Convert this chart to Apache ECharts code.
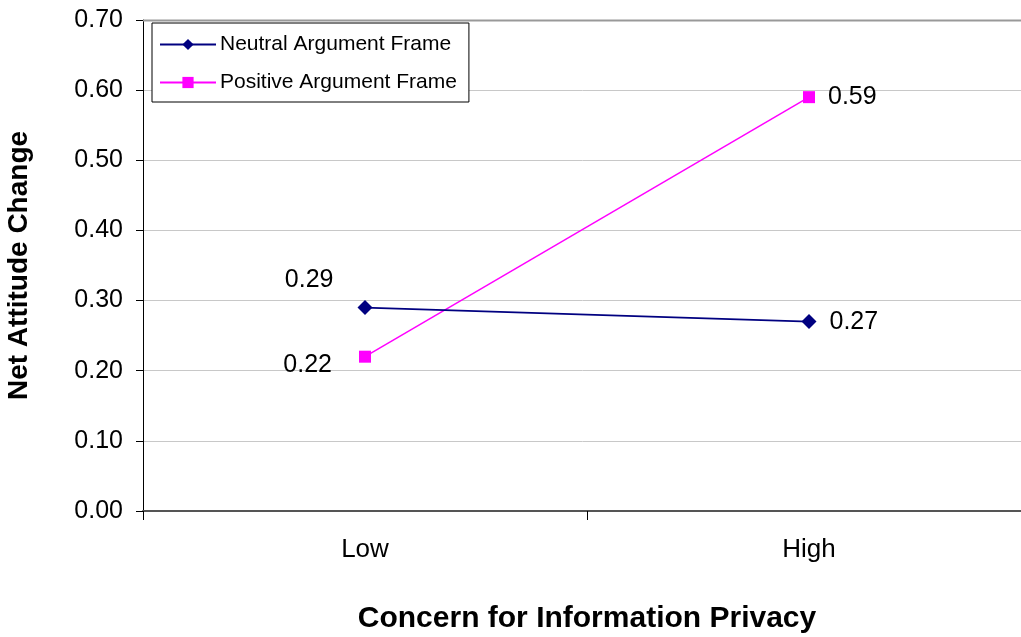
<!DOCTYPE html>
<html>
<head>
<meta charset="utf-8">
<script src="https://cdn.jsdelivr.net/npm/echarts@6/dist/echarts.min.js"></script>
<style>
  html, body { margin: 0; padding: 0; background: #fff; }
  #chart { width: 1021px; height: 637px; }
</style>
</head>
<body>
<div id="chart"></div>
<script>
// Concern for information privacy levels
const categories = ['Low', 'High'];
// Net attitude change per argument frame
const neutralValues = [0.29, 0.27];
const positiveValues = [0.22, 0.59];
const seriesNames = ['Neutral Argument Frame', 'Positive Argument Frame'];

const FONT = '"Liberation Sans", Arial, Helvetica, sans-serif';

const chart = echarts.init(document.getElementById('chart'), null, { renderer: 'canvas' });

const labelBase = {
  show: true,
  fontFamily: FONT,
  fontSize: 25,
  color: '#000',
  formatter: p => p.value.toFixed(2)
};

chart.setOption({
  animation: false,
  backgroundColor: '#fff',
  textStyle: { fontFamily: FONT },
  // plot area runs slightly past the right edge of the canvas
  grid: { left: 143, top: 20, width: 888, bottom: 126, containLabel: false, outerBoundsMode: 'none' },
  legend: {
    orient: 'vertical',
    left: 152,
    top: 23,
    padding: [11, 12, 9, 7],
    itemGap: 17,
    itemWidth: 56,
    itemHeight: 14,
    borderColor: '#000',
    borderWidth: 1,
    backgroundColor: '#fff',
    textStyle: { fontFamily: FONT, fontSize: 21, color: '#000', padding: [0, 0, 0, -1] },
    data: seriesNames
  },
  xAxis: {
    type: 'category',
    data: categories,
    boundaryGap: true,
    name: 'Concern for Information Privacy',
    nameLocation: 'middle',
    nameGap: 93,
    nameTextStyle: { fontFamily: FONT, fontSize: 30, fontWeight: 'bold', color: '#000' },
    axisLine: { lineStyle: { color: '#555', width: 2 } },
    axisTick: { show: true, length: 9, lineStyle: { color: '#000', width: 1 } },
    axisLabel: { margin: 26, fontFamily: FONT, fontSize: 26, color: '#000' },
    splitLine: { show: false }
  },
  yAxis: {
    type: 'value',
    min: 0,
    max: 0.7,
    interval: 0.1,
    name: 'Net Attitude Change',
    nameLocation: 'middle',
    nameGap: 110,
    nameTextStyle: { fontFamily: FONT, fontSize: 28, fontWeight: 'bold', color: '#000' },
    axisLine: { show: true, lineStyle: { color: '#000', width: 1 } },
    axisTick: { show: true, length: 7, lineStyle: { color: '#000' } },
    axisLabel: { margin: 20, fontFamily: FONT, fontSize: 25, color: '#000', formatter: v => v.toFixed(2) },
    splitLine: { show: true, lineStyle: { color: '#c8c8c8', width: 1 } }
  },
  series: [
    {
      name: seriesNames[0],
      type: 'line',
      data: [
        { value: neutralValues[0], label: Object.assign({}, labelBase, { position: 'left', distance: 24, offset: [0, -27] }) },
        { value: neutralValues[1], label: Object.assign({}, labelBase, { position: 'right', distance: 13, offset: [0, 0] }) }
      ],
      symbol: 'diamond',
      symbolSize: 15,
      color: '#000080',
      lineStyle: { color: '#000080', width: 1.8 },
      itemStyle: { color: '#000080' },
      z: 3
    },
    {
      name: seriesNames[1],
      type: 'line',
      data: [
        { value: positiveValues[0], label: Object.assign({}, labelBase, { position: 'left', distance: 27, offset: [0, 8] }) },
        { value: positiveValues[1], label: Object.assign({}, labelBase, { position: 'right', distance: 13, offset: [0, 0] }) }
      ],
      symbol: 'rect',
      symbolSize: 12,
      color: '#ff00ff',
      lineStyle: { color: '#ff00ff', width: 1.5 },
      itemStyle: { color: '#ff00ff' },
      z: 2
    }
  ],
  graphic: [
    {
      type: 'line',
      shape: { x1: 143, y1: 20.5, x2: 1021, y2: 20.5 },
      style: { stroke: '#999', lineWidth: 2 },
      z: 1
    }
  ]
});
</script>
</body>
</html>
